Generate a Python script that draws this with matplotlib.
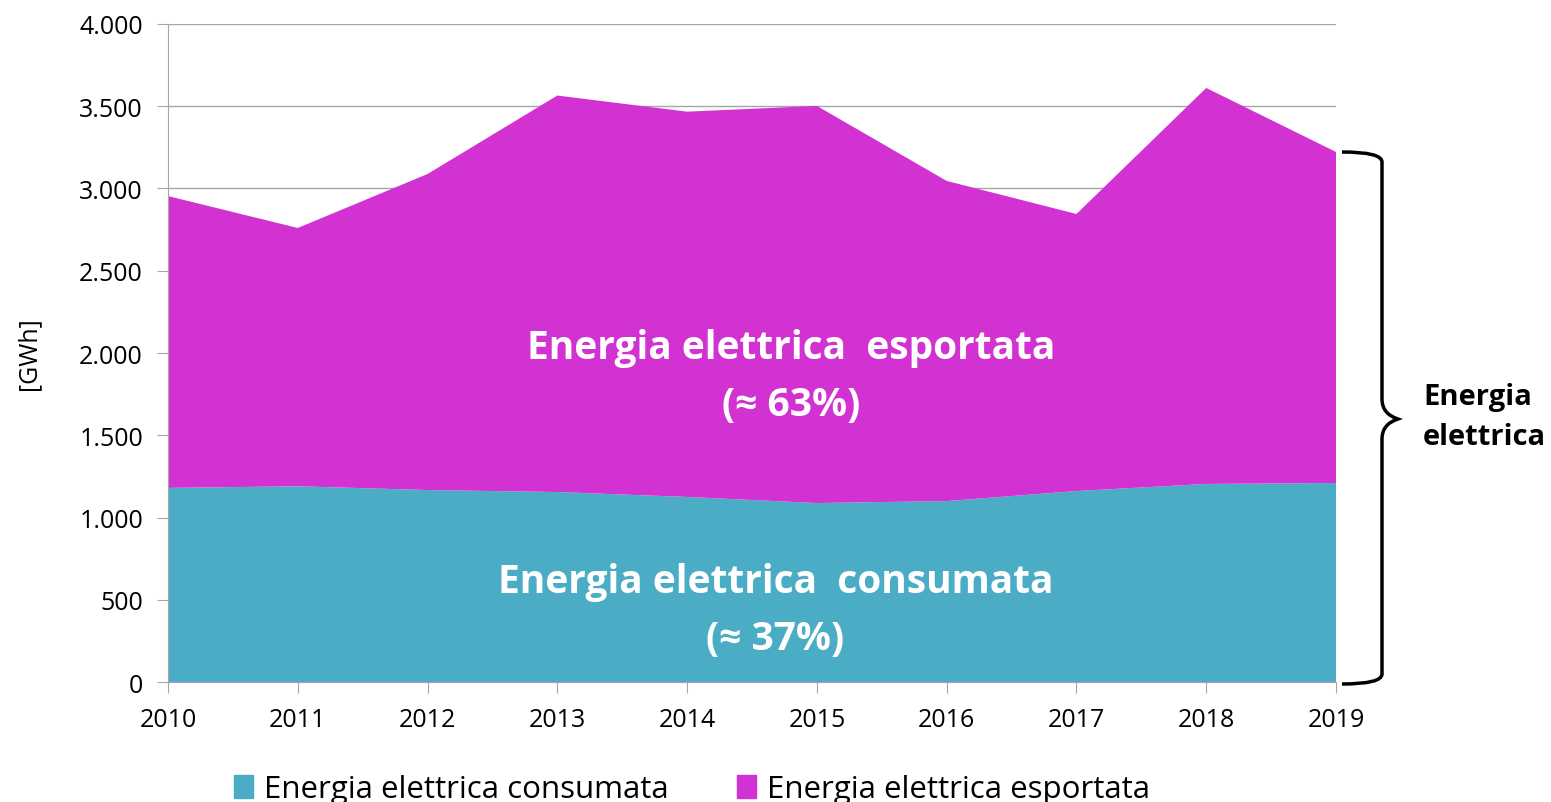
import numpy as np
import matplotlib.pyplot as plt
from matplotlib.patches import Patch
from matplotlib.path import Path
from matplotlib.patches import PathPatch

years = [2010, 2011, 2012, 2013, 2014, 2015, 2016, 2017, 2018, 2019]
consumata = [1180, 1190, 1167, 1155, 1125, 1088, 1100, 1161, 1204, 1210]
totale = [2954, 2760, 3088, 3565, 3467, 3502, 3046, 2845, 3611, 3222]
esportata = [t - c for t, c in zip(totale, consumata)]

col_cons = "#4BACC6"
col_esp = "#D232D2"
grey = "#A6A6A6"

plt.rcParams['font.family'] = ['Open Sans', 'DejaVu Sans']

fig = plt.figure(figsize=(15.51, 8.03), dpi=100)
ax = fig.add_axes([0.1083, 0.1494, 0.7531, 0.8195])

ax.stackplot(years, consumata, esportata, colors=[col_cons, col_esp], linewidth=0)

ax.set_xlim(2010, 2019)
ax.set_ylim(0, 4000)
ax.set_xticks(years)
ax.set_yticks(np.arange(0, 4001, 500))
ax.set_yticklabels([f"{v:,}".replace(",", ".") for v in range(0, 4001, 500)])
ax.grid(axis='y', color=grey, linewidth=1)
ax.set_axisbelow(True)
for s in ['top', 'right']:
    ax.spines[s].set_visible(False)
for s in ['left', 'bottom']:
    ax.spines[s].set_color(grey)
ax.tick_params(axis='both', colors=grey, labelcolor='black', labelsize=18, length=8)
ax.tick_params(axis='y', pad=10)
ax.tick_params(axis='x', pad=10)
ax.set_ylabel("[GWh]", fontsize=18, labelpad=27)

ax.text(2014.8, 1860, "Energia elettrica  esportata\n(≈ 63%)", color='white',
        fontsize=28, fontweight='bold', ha='center', va='center', linespacing=1.6)
ax.text(2014.68, 440, "Energia elettrica  consumata\n(≈ 37%)", color='white',
        fontsize=28, fontweight='bold', ha='center', va='center', linespacing=1.6)

# curly bracket on the right
W, H = 1551, 803
def fp(x, y):
    return (x / W, 1 - y / H)
top, bot, mid = 153, 685, 420
xl, xm, xt = 1342, 1382, 1398
verts = [fp(xl, top), fp(xm, top), fp(xm, top + 10), fp(xm, top + 30),
         fp(xm, mid - 20), fp(xm, mid - 5), fp(xt, mid),
         fp(xm, mid + 5), fp(xm, mid + 20),
         fp(xm, bot - 30), fp(xm, bot - 10), fp(xm, bot), fp(xl, bot)]
codes = [Path.MOVETO, Path.CURVE3, Path.CURVE3, Path.LINETO,
         Path.LINETO, Path.CURVE3, Path.CURVE3, Path.CURVE3, Path.CURVE3,
         Path.LINETO, Path.LINETO, Path.CURVE3, Path.CURVE3]
fig.add_artist(PathPatch(Path(verts, codes), transform=fig.transFigure,
                         fill=False, lw=2.5, color='black'))
fig.text(1423 / W, 1 - 418 / H, "Energia\nelettrica", fontsize=21, fontweight='bold',
         ha='left', va='center', linespacing=1.5)

handles = [Patch(color=col_cons), Patch(color=col_esp)]
fig.legend(handles, ["Energia elettrica consumata", "Energia elettrica esportata"],
           loc='center', bbox_to_anchor=(692 / W, 1 - 790 / H), ncol=2, frameon=False,
           fontsize=22.5, handlelength=0.6, handleheight=0.75, handletextpad=0.35,
           columnspacing=2.2, borderpad=0)

plt.savefig("out.png", dpi=100)
